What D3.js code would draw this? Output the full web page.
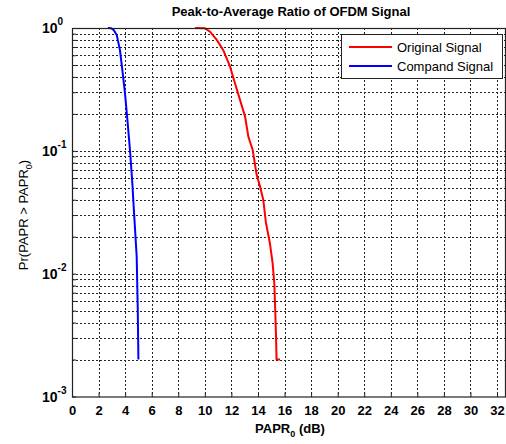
<!DOCTYPE html>
<head>
<meta charset="utf-8">
<script src="https://cdn.jsdelivr.net/npm/d3@7"></script>
<style>
    body { margin: 0; background: white; }
    text { font-family: "Liberation Sans", Arial, sans-serif; }
    .grid line { stroke: #222; stroke-dasharray: 2,2; shape-rendering: crispEdges; }
</style>
</head>
<body>
<svg id="chart" width="506" height="444"></svg>
<script>
    // data
    var xTicks = [0, 2, 4, 6, 8, 10, 12, 14, 16, 18, 20, 22, 24, 26, 28, 30, 32]
    var yExps = [0, -1, -2, -3]
    var origPapr = [9.26, 10.0, 10.39, 10.9, 11.39, 11.9, 12.27, 12.65, 13.03, 13.28, 13.6, 13.9, 14.16, 14.4, 14.6, 14.9, 15.1, 15.23, 15.3, 15.36, 15.4, 15.66]
    var origProb = [1, 0.995, 0.933, 0.80, 0.66, 0.485, 0.355, 0.26, 0.19, 0.13, 0.102, 0.064, 0.051, 0.040, 0.026, 0.0177, 0.0123, 0.0084, 0.0051, 0.0031, 0.002, 0.002]
    var compPapr = [2.7, 2.95, 3.15, 3.37, 3.61, 3.79, 3.99, 4.17, 4.37, 4.54, 4.69, 4.87, 4.95, 5.0]
    var compProb = [1, 0.995, 0.96, 0.877, 0.66, 0.456, 0.294, 0.179, 0.1, 0.055, 0.029, 0.0138, 0.0052, 0.002]
    var seriesNames = ["Original Signal", "Compand Signal"]
    var seriesColours = ["#ff0000", "#0000ff"]

    var padL = 72, padR = 505, padT = 28, padB = 396.5
    var svg = d3.select("#chart")

    var x = d3.scaleLinear().domain([0, 32.6]).range([padL, padR])
    var y = d3.scaleLog().domain([1e-3, 1]).range([padB, padT])

    // grid
    var minor = []
    for (var e = -3; e < 0; e++)
        for (var m = 1; m < 10; m++) minor.push(m * Math.pow(10, e))
    minor.push(1)

    var grid = svg.append("g").attr("class", "grid")
    grid.selectAll("line.h").data(minor.filter(v => v > 1e-3 && v < 1))
        .enter().append("line").attr("class", "h")
        .attr("x1", padL).attr("x2", padR)
        .attr("y1", d => Math.round(y(d)) + 0.5).attr("y2", d => Math.round(y(d)) + 0.5)
    grid.selectAll("line.v").data(xTicks.filter(d => d > 0))
        .enter().append("line").attr("class", "v")
        .attr("y1", padT).attr("y2", padB)
        .attr("x1", d => Math.round(x(d)) + 0.5).attr("x2", d => Math.round(x(d)) + 0.5)

    // curves
    var line = d3.line().x(d => x(d[0])).y(d => y(d[1]))
    var series = [
        d3.zip(origPapr, origProb),
        d3.zip(compPapr, compProb)
    ]
    svg.selectAll("path.curve").data(series).enter().append("path")
        .attr("class", "curve")
        .attr("d", line)
        .attr("fill", "none")
        .attr("stroke", (d, i) => seriesColours[i])
        .attr("stroke-width", 2)

    // box
    svg.append("rect").attr("x", padL + 0.5).attr("y", padT + 0.5)
        .attr("width", padR - padL).attr("height", padB - padT)
        .attr("fill", "none").attr("stroke", "#222").attr("stroke-width", 1.2)

    // x axis
    var xAxis = svg.append("g").attr("transform", "translate(0," + padB + ")")
        .call(d3.axisBottom(x).tickValues(xTicks).tickSize(-4).tickPadding(9))
    xAxis.select(".domain").remove()
    xAxis.selectAll("line").attr("stroke", "#222")
    xAxis.selectAll("text").style("font", "bold 13px 'Liberation Sans', Arial, sans-serif").attr("fill", "#000")

    // y axis
    var yAxis = svg.append("g").attr("transform", "translate(" + padL + ",0)")
        .call(d3.axisLeft(y).tickValues(minor).tickSize(-4).tickFormat(""))
    yAxis.select(".domain").remove()
    yAxis.selectAll("line").attr("stroke", "#222")
    var ylab = svg.selectAll("text.ylab").data(yExps).enter().append("text")
        .attr("class", "ylab")
        .attr("x", 42)
        .attr("y", d => y(Math.pow(10, d)) + 5)
        .style("font", "bold 14px 'Liberation Sans', Arial, sans-serif")
    ylab.append("tspan").text("10")
    ylab.append("tspan").attr("dy", -8).style("font-size", "10px").text(d => d)

    // title
    svg.append("text").attr("x", 291).attr("y", 16).attr("text-anchor", "middle")
        .style("font", "bold 13px 'Liberation Sans', Arial, sans-serif")
        .text("Peak-to-Average Ratio of OFDM Signal")

    // axis labels
    var xl = svg.append("text").attr("x", 290).attr("y", 433).attr("text-anchor", "middle")
        .style("font", "bold 13px 'Liberation Sans', Arial, sans-serif")
    xl.append("tspan").text("PAPR")
    xl.append("tspan").attr("dy", 4).style("font-size", "9px").text("0")
    xl.append("tspan").attr("dy", -4).text(" (dB)")

    var yl = svg.append("text").attr("transform", "translate(28,215) rotate(-90)")
        .attr("text-anchor", "middle")
        .style("font", "13px 'Liberation Sans', Arial, sans-serif")
    yl.append("tspan").text("Pr(PAPR > PAPR")
    yl.append("tspan").attr("dy", 4).style("font-size", "9px").text("0")
    yl.append("tspan").attr("dy", -4).text(")")

    // legend
    var lg = svg.append("g")
    lg.append("rect").attr("x", 341.5).attr("y", 34.5).attr("width", 161).attr("height", 44)
        .attr("fill", "white").attr("stroke", "#222")
    seriesNames.forEach(function(n, i) {
        var ly = 47 + i * 19
        lg.append("line").attr("x1", 349).attr("x2", 392).attr("y1", ly).attr("y2", ly)
            .attr("stroke", seriesColours[i]).attr("stroke-width", 2)
        lg.append("text").attr("x", 397).attr("y", ly + 5)
            .style("font", "13px 'Liberation Sans', Arial, sans-serif")
            .text(n)
    })
</script>
</body>
</html>
